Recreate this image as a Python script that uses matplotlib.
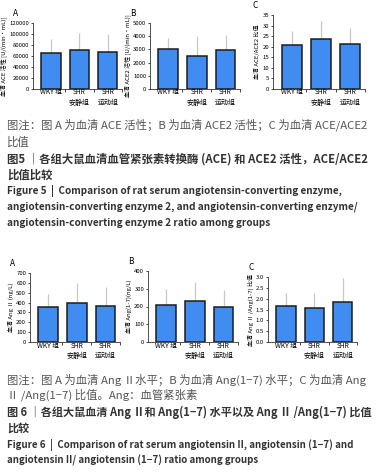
import matplotlib.pyplot as plt
import matplotlib.transforms as mtransforms

plt.rcParams['font.family'] = ['Noto Sans CJK SC', 'DejaVu Sans']

W, H = 380, 476

group_top = ['WKY 组', 'SHR', 'SHR']
group_bottom = ['', '安静组', '运动组']

# 图5
ace = [65000, 71000, 67500]
ace_err = [26000, 31000, 32500]
ace2 = [3030, 2500, 2930]
ace2_err = [840, 1540, 1190]
ratio5 = [21.0, 23.5, 21.3]
ratio5_err = [6.5, 8.5, 7.7]

# 图6
ang2 = [355, 392, 368]
ang2_err = [135, 210, 190]
ang17 = [210, 232, 197]
ang17_err = [90, 105, 95]
ratio6 = [1.66, 1.58, 1.84]
ratio6_err = [0.6, 0.7, 1.13]

bar_color = '#418cf0'
edge_color = '#1c1c1c'
err_color = '#c8c8c8'


def panel(x0, x1, y0, y1, vals, errs, ymax, step, ylabel, letter, fmt='{:g}'):
    ax = plt.gcf().add_axes([x0 / W, 1 - y1 / H, (x1 - x0) / W, (y1 - y0) / H])
    xs = range(len(vals))
    ax.bar(xs, vals, width=0.68, color=bar_color, edgecolor=edge_color, linewidth=1.1, zorder=3)
    ax.errorbar(xs, vals, yerr=[[0] * len(vals), errs], fmt='none', ecolor=err_color,
                elinewidth=0.9, capsize=0, zorder=2)
    ax.set_ylim(0, ymax)
    ax.set_xlim(-0.63, 2.45)
    ticks = [i * step for i in range(int(round(ymax / step)) + 1)]
    ax.set_yticks(ticks)
    ax.set_yticklabels([fmt.format(t) for t in ticks], fontsize=4.3)
    ax.set_xticks([0.5, 1.5, 2.5])
    ax.set_xticklabels([])
    ax.tick_params(axis='x', length=2, width=0.5)
    ax.tick_params(axis='y', length=1.8, width=0.5, pad=1)
    trans = mtransforms.blended_transform_factory(ax.transData, ax.transAxes)
    dy = 3.5 / (y1 - y0)
    dy2 = 13.5 / (y1 - y0)
    for i in xs:
        ax.text(i, -dy, group_top[i], transform=trans, fontsize=4.8, ha='center', va='center')
        if group_bottom[i]:
            ax.text(i, -dy2, group_bottom[i], transform=trans, fontsize=5, ha='center', va='center')
    for s in ['top', 'right']:
        ax.spines[s].set_visible(False)
    for s in ['left', 'bottom']:
        ax.spines[s].set_linewidth(0.6)
        ax.spines[s].set_color('#333333')
    ax.set_ylabel(ylabel, fontsize=4.3, labelpad=1.5)
    ax.text(-0.22, 1.07, letter, transform=ax.transAxes, fontsize=6, ha='left', va='bottom')
    return ax


fig = plt.figure(figsize=(3.8, 4.76), dpi=100)

panel(33, 122, 23, 89, ace, ace_err, 120000, 20000, '血清 ACE 活性 [U/(min·mL)]', 'A')
panel(150, 240, 23, 89, ace2, ace2_err, 5000, 1000, '血清 ACE2 活性 [U/(min·mL)]', 'B')
panel(273, 365, 15, 89, ratio5, ratio5_err, 35, 5, '血清 ACE/ACE2 比值', 'C')

panel(30, 120, 273, 342, ang2, ang2_err, 700, 100, '血清 Ang Ⅱ (ng/L)', 'A')
panel(148, 238, 271, 342, ang17, ang17_err, 400, 100, '血清 Ang(1-7)(ng/L)', 'B')
panel(268, 357, 277, 342, ratio6, ratio6_err, 3.0, 0.5, '血清 Ang Ⅱ /Ang(1-7) 比值', 'C', '{:.1f}')

gray = '#555555'
dark = '#333333'
captions = [
    (125, '图注：图 A 为血清 ACE 活性；B 为血清 ACE2 活性；C 为血清 ACE/ACE2', gray, 'normal', 8.2),
    (142, '比值', gray, 'normal', 8.2),
    (159, '图5 ｜各组大鼠血清血管紧张素转换酶 (ACE) 和 ACE2 活性，ACE/ACE2', dark, 'bold', 8.2),
    (175, '比值比较', dark, 'bold', 8.2),
    (191, 'Figure 5  |  Comparison of rat serum angiotensin-converting enzyme,', dark, 'bold', 7.2),
    (207, 'angiotensin-converting enzyme 2, and angiotensin-converting enzyme/', dark, 'bold', 7.2),
    (223, 'angiotensin-converting enzyme 2 ratio among groups', dark, 'bold', 7.2),
    (380, '图注：图 A 为血清 Ang Ⅱ水平；B 为血清 Ang(1−7) 水平；C 为血清 Ang', gray, 'normal', 8.2),
    (395, 'Ⅱ /Ang(1−7) 比值。Ang：血管紧张素', gray, 'normal', 8.2),
    (412, '图 6 ｜各组大鼠血清 Ang Ⅱ和 Ang(1−7) 水平以及 Ang Ⅱ /Ang(1−7) 比值', dark, 'bold', 8.0),
    (428, '比较', dark, 'bold', 8.0),
    (445, 'Figure 6  |  Comparison of rat serum angiotensin II, angiotensin (1−7) and', dark, 'bold', 7.0),
    (460, 'angiotensin II/ angiotensin (1−7) ratio among groups', dark, 'bold', 7.0),
]
for y, txt, col, wt, fs in captions:
    fig.text(7 / W, 1 - y / H, txt, fontsize=fs, color=col, fontweight=wt, ha='left', va='center')

fig.savefig('out.png', dpi=100)
